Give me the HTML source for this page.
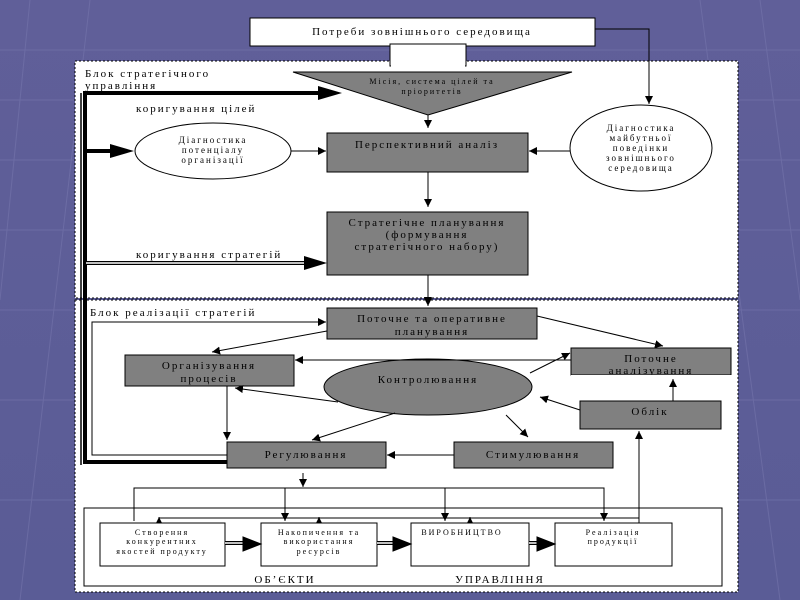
<!DOCTYPE html>
<html><head><meta charset="utf-8"><style>
html,body{margin:0;padding:0;width:800px;height:600px;overflow:hidden;background:#5e5f98}
svg text{font-family:"Liberation Serif",serif;fill:#000;letter-spacing:2px}
</style></head><body>
<svg width="800" height="600" viewBox="0 0 800 600" xmlns="http://www.w3.org/2000/svg">
<defs>
<linearGradient id="bg" x1="0" y1="0" x2="0" y2="1"><stop offset="0" stop-color="#605f99"/><stop offset="1" stop-color="#5a5c96"/></linearGradient>
<marker id="a" viewBox="0 0 10 10" refX="10" refY="5" markerWidth="8" markerHeight="8" orient="auto" markerUnits="userSpaceOnUse"><path d="M0,0L10,5L0,10z" fill="#000"/></marker>
</defs>
<rect width="800" height="600" fill="url(#bg)"/>
<g stroke="#7a7ab0" stroke-width="1" opacity="0.5">
<line x1="0" y1="50" x2="800" y2="50"/><line x1="0" y1="100" x2="800" y2="100"/><line x1="0" y1="160" x2="800" y2="160"/><line x1="0" y1="230" x2="800" y2="230"/><line x1="0" y1="310" x2="800" y2="310"/><line x1="0" y1="400" x2="800" y2="400"/><line x1="0" y1="500" x2="800" y2="500"/>
<line x1="30" y1="0" x2="0" y2="300"/><line x1="90" y1="0" x2="20" y2="600"/><line x1="700" y1="0" x2="780" y2="600"/><line x1="760" y1="0" x2="800" y2="300"/>
</g>
<rect x="250" y="18" width="345" height="28" fill="#fff" stroke="#000"/>
<text x="422" y="35" font-size="11" text-anchor="middle">Потреби зовнішнього середовища</text>
<rect x="75" y="61" width="663" height="237" fill="#fff" stroke="#000" stroke-dasharray="2,2"/>
<rect x="390" y="44" width="76" height="22" fill="#fff" stroke="#000"/>
<rect x="391" y="60" width="74" height="8" fill="#fff"/>
<polygon points="293,72 572,72 428,115" fill="#808080" stroke="#000"/>
<text x="432" y="84" font-size="8" text-anchor="middle" letter-spacing="1">Місія, система цілей та</text>
<text x="432" y="94" font-size="8" text-anchor="middle" letter-spacing="1">пріоритетів</text>
<text x="85" y="77" font-size="11">Блок стратегічного</text>
<text x="85" y="89" font-size="11">управління</text>
<text x="136" y="112" font-size="11">коригування цілей</text>
<text x="136" y="258" font-size="11">коригування стратегій</text>
<polyline points="595,29 649,29 649,104" fill="none" stroke="#000" marker-end="url(#a)"/>
<ellipse cx="213" cy="151" rx="78" ry="28" fill="#fff" stroke="#000"/>
<text x="213" y="143" font-size="9" text-anchor="middle">Діагностика</text>
<text x="213" y="153" font-size="9" text-anchor="middle">потенціалу</text>
<text x="213" y="163" font-size="9" text-anchor="middle">організації</text>
<ellipse cx="641" cy="148" rx="71" ry="43" fill="#fff" stroke="#000"/>
<text x="641" y="131" font-size="9" text-anchor="middle">Діагностика</text>
<text x="641" y="141" font-size="9" text-anchor="middle">майбутньої</text>
<text x="641" y="151" font-size="9" text-anchor="middle">поведінки</text>
<text x="641" y="161" font-size="9" text-anchor="middle">зовнішнього</text>
<text x="641" y="171" font-size="9" text-anchor="middle">середовища</text>
<rect x="327" y="133" width="201" height="39" fill="#808080" stroke="#000"/>
<text x="427" y="148" font-size="11" text-anchor="middle">Перспективний аналіз</text>
<rect x="327" y="212" width="201" height="63" fill="#808080" stroke="#000"/>
<text x="427" y="226" font-size="11" text-anchor="middle">Стратегічне планування</text>
<text x="427" y="238" font-size="11" text-anchor="middle">(формування</text>
<text x="427" y="250" font-size="11" text-anchor="middle">стратегічного набору)</text>
<line x1="428" y1="115" x2="428" y2="128" stroke="#000" marker-end="url(#a)"/>
<line x1="291" y1="151" x2="326" y2="151" stroke="#000" marker-end="url(#a)"/>
<line x1="570" y1="151" x2="529" y2="151" stroke="#000" marker-end="url(#a)"/>
<line x1="428" y1="172" x2="428" y2="207" stroke="#000" marker-end="url(#a)"/>
<line x1="428" y1="275" x2="428" y2="305" stroke="#000" marker-end="url(#a)"/>
<rect x="75" y="300" width="663" height="292" fill="#fff" stroke="#000" stroke-dasharray="2,2"/>
<line x1="428" y1="290" x2="428" y2="306" stroke="#000" marker-end="url(#a)"/>
<text x="90" y="316" font-size="11" letter-spacing="1">Блок реалізації стратегій</text>
<polyline points="227,462 85,462 85,93 320,93" fill="none" stroke="#000" stroke-width="4"/>
<polygon points="318,86 342,93 318,100" fill="#000"/>
<line x1="85" y1="151" x2="112" y2="151" stroke="#000" stroke-width="4"/>
<polygon points="110,144 134,151 110,158" fill="#000"/>
<line x1="85" y1="263" x2="306" y2="263" stroke="#000" stroke-width="4"/>
<line x1="86" y1="263" x2="306" y2="263" stroke="#fff" stroke-width="1.5"/>
<polygon points="304,256 327,263 304,270" fill="#000"/>
<line x1="81" y1="93" x2="81" y2="465" stroke="#000" stroke-width="1.5"/>
<polyline points="227,455 92,455 92,322 326,322" fill="none" stroke="#000" marker-end="url(#a)"/>
<rect x="327" y="308" width="210" height="31" fill="#808080" stroke="#000"/>
<text x="432" y="322" font-size="11" text-anchor="middle">Поточне та оперативне</text>
<text x="432" y="335" font-size="11" text-anchor="middle">планування</text>
<rect x="125" y="355" width="169" height="31" fill="#808080" stroke="#000"/>
<text x="209" y="369" font-size="11" text-anchor="middle">Організування</text>
<text x="209" y="382" font-size="11" text-anchor="middle">процесів</text>
<rect x="571" y="348" width="160" height="27" fill="#808080" stroke="#000"/>
<text x="651" y="362" font-size="11" text-anchor="middle">Поточне</text>
<text x="651" y="374" font-size="11" text-anchor="middle">аналізування</text>
<rect x="571" y="375" width="161" height="5" fill="#fff"/>
<ellipse cx="428" cy="387" rx="104" ry="28" fill="#808080" stroke="#000"/>
<text x="428" y="383" font-size="11" text-anchor="middle">Контролювання</text>
<rect x="580" y="401" width="141" height="28" fill="#808080" stroke="#000"/>
<text x="650" y="415" font-size="11" text-anchor="middle">Облік</text>
<rect x="227" y="442" width="159" height="26" fill="#808080" stroke="#000"/>
<text x="306" y="458" font-size="11" text-anchor="middle">Регулювання</text>
<rect x="454" y="442" width="159" height="26" fill="#808080" stroke="#000"/>
<text x="533" y="458" font-size="11" text-anchor="middle">Стимулювання</text>
<g stroke="#000" fill="none">
<line x1="327" y1="331" x2="212" y2="352" marker-end="url(#a)"/>
<line x1="537" y1="316" x2="663" y2="346" marker-end="url(#a)"/>
<line x1="571" y1="360" x2="295" y2="360" marker-end="url(#a)"/>
<line x1="530" y1="373" x2="570" y2="353" marker-end="url(#a)"/>
<line x1="338" y1="402" x2="235" y2="388" marker-end="url(#a)"/>
<line x1="580" y1="410" x2="540" y2="397" marker-end="url(#a)"/>
<line x1="673" y1="401" x2="673" y2="379" marker-end="url(#a)"/>
<line x1="395" y1="413" x2="312" y2="440" marker-end="url(#a)"/>
<line x1="506" y1="415" x2="528" y2="437" marker-end="url(#a)"/>
<line x1="454" y1="455" x2="387" y2="455" marker-end="url(#a)"/>
<line x1="227" y1="386" x2="227" y2="440" marker-end="url(#a)"/>
<line x1="303" y1="473" x2="303" y2="487" marker-end="url(#a)"/>
<polyline points="134,521 134,488 604,488 604,521" marker-end="url(#a)"/>
<line x1="285" y1="488" x2="285" y2="521" marker-end="url(#a)"/>
<line x1="445" y1="488" x2="445" y2="521" marker-end="url(#a)"/>
<line x1="159" y1="518" x2="639" y2="518"/>
<line x1="159" y1="523" x2="159" y2="517" marker-end="url(#a)"/>
<line x1="319" y1="523" x2="319" y2="517" marker-end="url(#a)"/>
<line x1="470" y1="523" x2="470" y2="517" marker-end="url(#a)"/>
<line x1="639" y1="523" x2="639" y2="431" marker-end="url(#a)"/>
</g>
<rect x="84" y="508" width="638" height="78" fill="none" stroke="#000"/>
<g stroke="#000" fill="#fff">
<rect x="100" y="523" width="125" height="43"/>
<rect x="261" y="523" width="116" height="43"/>
<rect x="411" y="523" width="118" height="43"/>
<rect x="555" y="523" width="117" height="43"/>
</g>
<g font-size="8" text-anchor="middle">
<text x="162" y="535" letter-spacing="1">Створення</text>
<text x="162" y="544" letter-spacing="1">конкурентних</text>
<text x="162" y="554" letter-spacing="1">якостей продукту</text>
<text x="319" y="535" letter-spacing="1">Накопичення та</text>
<text x="319" y="544" letter-spacing="1">використання</text>
<text x="319" y="554" letter-spacing="1">ресурсів</text>
<text x="462" y="535" letter-spacing="1">ВИРОБНИЦТВО</text>
<text x="613" y="535" letter-spacing="1">Реалізація</text>
<text x="613" y="544" letter-spacing="1">продукції</text>
</g>
<g stroke="#000">
<line x1="225" y1="543" x2="245" y2="543" stroke-width="4"/><line x1="225" y1="543" x2="245" y2="543" stroke="#fff" stroke-width="1.5"/>
<polygon points="243,537 261,544 243,551" fill="#000"/>
<line x1="377" y1="543" x2="395" y2="543" stroke-width="4"/><line x1="377" y1="543" x2="395" y2="543" stroke="#fff" stroke-width="1.5"/>
<polygon points="393,537 411,544 393,551" fill="#000"/>
<line x1="529" y1="543" x2="539" y2="543" stroke-width="4"/><line x1="529" y1="543" x2="539" y2="543" stroke="#fff" stroke-width="1.5"/>
<polygon points="537,537 555,544 537,551" fill="#000"/>
</g>
<text x="285" y="583" font-size="11" text-anchor="middle">ОБ’ЄКТИ</text>
<text x="500" y="583" font-size="11" text-anchor="middle">УПРАВЛІННЯ</text>
</svg>
</body></html>
